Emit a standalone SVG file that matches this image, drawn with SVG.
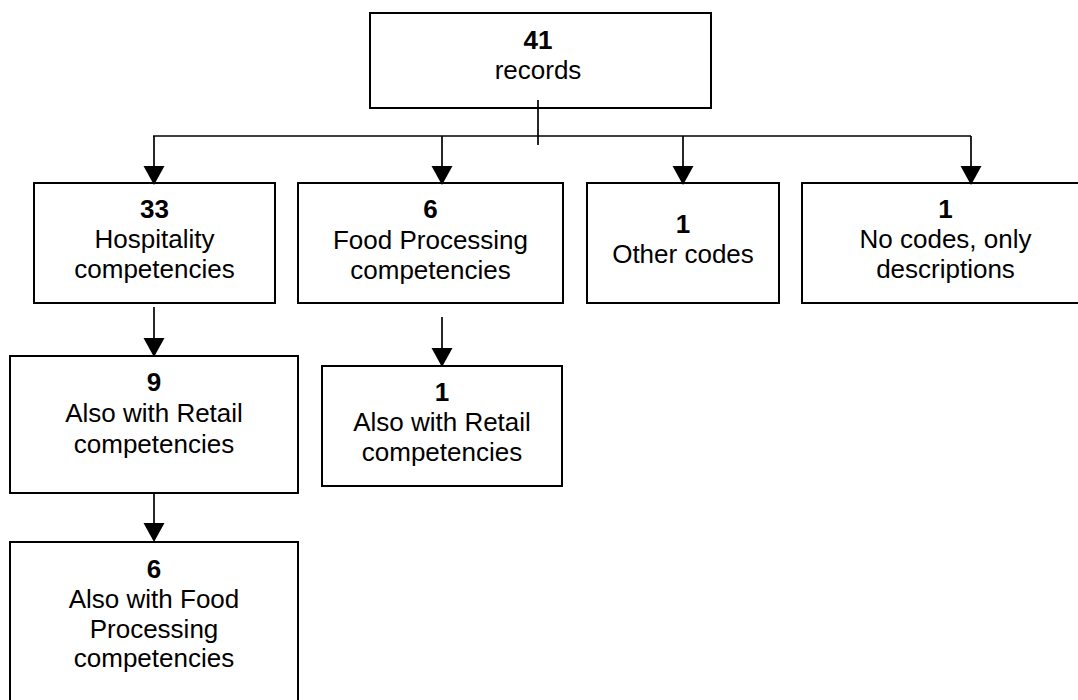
<svg xmlns="http://www.w3.org/2000/svg" width="1078" height="700" viewBox="0 0 1078 700">
<style>
.box{fill:#fff;stroke:#000;stroke-width:2}
.ln{fill:none;stroke:#000;stroke-width:1.7}
.ah{fill:#000}
.t{font-family:"Liberation Sans",Arial,sans-serif;font-size:26px;fill:#000;text-anchor:middle}
.b{font-weight:bold}
</style>
<rect width="1078" height="700" fill="#fff"/>
<g id="n-records">
<rect class="box" x="370" y="13" width="341" height="95"/>
<text class="t b" x="538" y="49">41</text>
<text class="t" x="538" y="79">records</text>
</g>
<g id="n-hospitality">
<rect class="box" x="34" y="183" width="241" height="120"/>
<text class="t b" x="154.5" y="218">33</text>
<text class="t" x="154.5" y="248">Hospitality</text>
<text class="t" x="154.5" y="278">competencies</text>
</g>
<g id="n-food">
<rect class="box" x="298" y="183" width="265" height="120"/>
<text class="t b" x="430.5" y="218">6</text>
<text class="t" x="430.5" y="249">Food Processing</text>
<text class="t" x="430.5" y="279">competencies</text>
</g>
<g id="n-other">
<rect class="box" x="587" y="183" width="192" height="120"/>
<text class="t b" x="683" y="233">1</text>
<text class="t" x="683" y="263">Other codes</text>
</g>
<g id="n-nocodes">
<rect class="box" x="802" y="183" width="287" height="120"/>
<text class="t b" x="945.5" y="218">1</text>
<text class="t" x="945.5" y="248">No codes, only</text>
<text class="t" x="945.5" y="278">descriptions</text>
</g>
<g id="n-retail9">
<rect class="box" x="10" y="356" width="288" height="137"/>
<text class="t b" x="154" y="391">9</text>
<text class="t" x="154" y="422">Also with Retail</text>
<text class="t" x="154" y="453">competencies</text>
</g>
<g id="n-retail1">
<rect class="box" x="322" y="366" width="240" height="120"/>
<text class="t b" x="442" y="401">1</text>
<text class="t" x="442" y="431">Also with Retail</text>
<text class="t" x="442" y="461">competencies</text>
</g>
<g id="n-food6">
<rect class="box" x="10" y="542" width="288" height="170"/>
<text class="t b" x="154" y="578">6</text>
<text class="t" x="154" y="608">Also with Food</text>
<text class="t" x="154" y="638">Processing</text>
<text class="t" x="154" y="667">competencies</text>
</g>
<g id="connectors">
<line class="ln" x1="538" y1="100" x2="538" y2="145"/>
<line class="ln" x1="153" y1="136" x2="971" y2="136"/>
<line class="ln" x1="154" y1="136" x2="154" y2="167"/>
<path class="ah" d="M143.5,166 L164.5,166 L154,185 Z"/>
<line class="ln" x1="442" y1="136" x2="442" y2="167"/>
<path class="ah" d="M431.5,166 L452.5,166 L442,185 Z"/>
<line class="ln" x1="683" y1="136" x2="683" y2="167"/>
<path class="ah" d="M672.5,166 L693.5,166 L683,185 Z"/>
<line class="ln" x1="971" y1="136" x2="971" y2="167"/>
<path class="ah" d="M960.5,166 L981.5,166 L971,185 Z"/>
<line class="ln" x1="154" y1="307" x2="154" y2="339"/>
<path class="ah" d="M143.5,338 L164.5,338 L154,357 Z"/>
<line class="ln" x1="442" y1="317" x2="442" y2="349"/>
<path class="ah" d="M431.5,348 L452.5,348 L442,367 Z"/>
<line class="ln" x1="154" y1="493" x2="154" y2="524"/>
<path class="ah" d="M143.5,523 L164.5,523 L154,542 Z"/>
</g>
</svg>
